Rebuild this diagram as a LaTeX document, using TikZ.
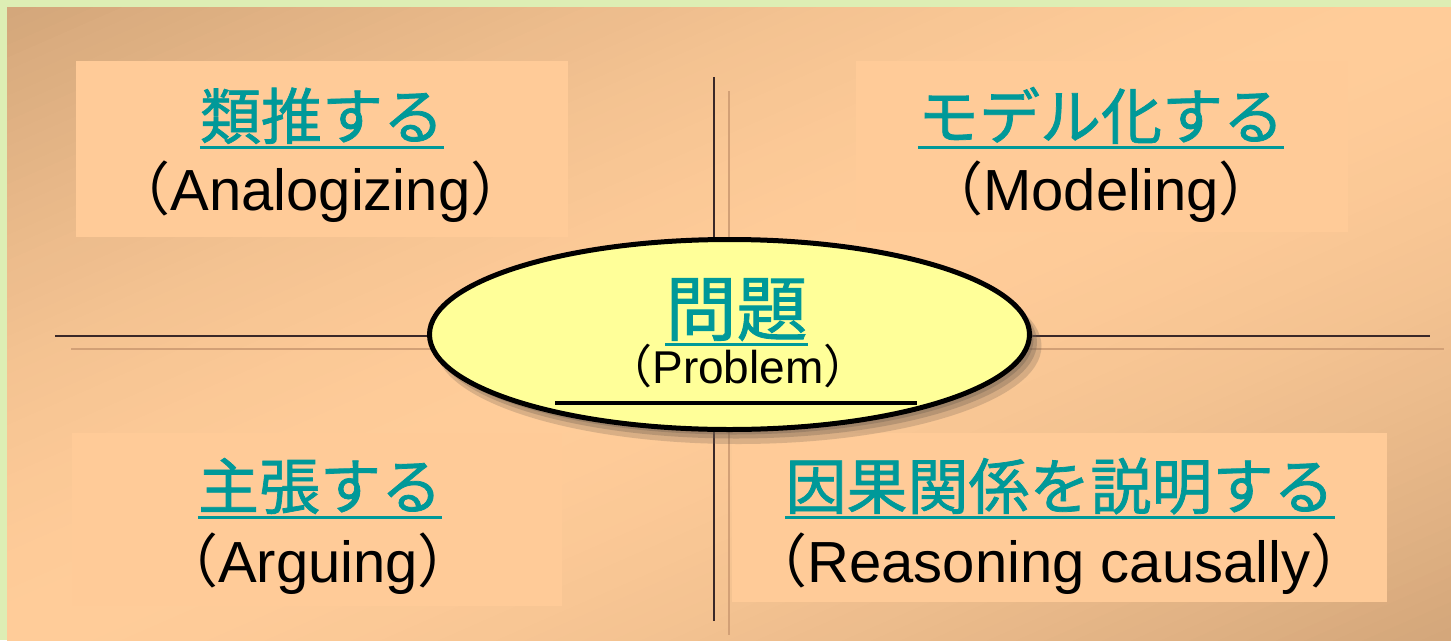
\documentclass[tikz,border=0pt]{standalone}
\usepackage{fontspec}
\setmainfont{Liberation Sans}
\newfontfamily\jp{Noto Sans CJK JP}[FakeBold=1.2]
\newfontfamily\jpp{Noto Sans CJK JP}
\usetikzlibrary{shapes.geometric,calc}
\definecolor{greenc}{HTML}{DDEEB4}
\definecolor{darkc}{HTML}{D3A67A}
\definecolor{peachc}{HTML}{FFCC99}
\definecolor{panelc}{HTML}{FFCB98}
\definecolor{tealc}{HTML}{009999}
\definecolor{axisc}{HTML}{3A2828}
\definecolor{axshc}{HTML}{D2A076}
\definecolor{yellc}{HTML}{FFFF99}
\definecolor{shdc}{HTML}{6E5E50}
\newcommand\enparen[1]{{\jpp （}#1{\jpp ）}}
\begin{document}
\begin{tikzpicture}[x=1pt,y=-1pt,
  panel/.style={fill=panelc,draw=none},
  axl/.style={draw=axisc,line width=2pt},
  axsh/.style={draw=axshc,line width=2pt},
  jpt/.style={text=tealc,font=\jp\fontsize{61}{61}\selectfont,inner sep=0pt,anchor=base},
  jpbig/.style={text=tealc,font=\jp\fontsize{71}{71}\selectfont,inner sep=0pt,anchor=base},
  ent/.style={text=black,font=\fontsize{58}{58}\selectfont,inner sep=0pt,anchor=base},
  ensm/.style={text=black,font=\fontsize{46}{46}\selectfont,inner sep=0pt,anchor=base},
  ulc/.style={draw=tealc,line width=3pt}]
\useasboundingbox (0,0) rectangle (1451,640);
\fill[greenc] (0,0) rectangle (1451,640);
\begin{scope}
\clip (7,7) rectangle (1451,640);
\foreach \i in {0,...,99} {
  \pgfmathsetmacro\ta{\i*0.02}
  \pgfmathsetmacro\tb{\ta+0.035}
  \pgfmathsetmacro\tm{\ta+0.01}
  \pgfmathtruncatemacro\dd{100*min(1,pow(max(abs(\tm-1),0.001),1.6))}
  \colorlet{stripc}{darkc!\dd!peachc}
  \fill[stripc] ({7+\ta*1444},7) -- ({7+\tb*1444},7) -- (7,{7+\tb*633}) -- (7,{7+\ta*633}) -- cycle;
}
\end{scope}
% axes
\coordinate (vs1) at (729,91);  \coordinate (vs2) at (729,635);
\coordinate (hs1) at (71,349);  \coordinate (hs2) at (1444,349);
\coordinate (v1) at (714,77);   \coordinate (v2) at (714,621);
\coordinate (h1) at (55,336);   \coordinate (h2) at (1430,336);
\draw[axsh] (vs1) -- (vs2);
\draw[axsh] (hs1) -- (hs2);
\draw[axl] (v1) -- (v2);
\draw[axl] (h1) -- (h2);
% panels
\path[panel] (76,61) rectangle (568,237);
\path[panel] (856,61) rectangle (1348,232);
\path[panel] (72,433) rectangle (562,606);
\path[panel] (732,433) rectangle (1387,602);
% ellipse shadow
\fill[shdc,opacity=0.25] (738.5,346) ellipse [x radius=303, y radius=98];
\fill[shdc,opacity=0.3] (736,342.5) ellipse [x radius=301, y radius=96];
\fill[shdc,opacity=0.35] (733.5,339.5) ellipse [x radius=300, y radius=95];
\node[ellipse,draw=black,line width=5pt,fill=yellc,minimum width=600pt,minimum height=190pt,inner sep=0pt] (prob) at (729.5,334.5) {};
\coordinate (bar1) at (555,403); \coordinate (bar2) at (917,403);
\draw[black,line width=3.5pt] (bar1) -- (bar2);
% texts
\node[jpt] (t1) at (322,139) {類推する};
\node[ent] (e1) at (320.5,210) {\enparen{Analogizing}};
\node[jpt] (t2) at (1101,139) {モデル化する};
\node[ent] (e2) at (1101,210) {\enparen{Modeling}};
\node[jpbig] (t3) at (736.5,335) {問題};
\node[ensm] (e3) at (738,383) {\enparen{Problem}};
\node[jpt] (t4) at (320,509) {主張する};
\node[ent] (e4) at (318,582) {\enparen{Arguing}};
\node[jpt] (t5) at (1060,509) {因果関係を説明する};
\node[ent] (e5) at (1059,582) {\enparen{Reasoning causally}};
\foreach \n in {t1,t2,t4,t5}
  \draw[ulc] ($(\n.base west)+(0,8.5)$) -- ($(\n.base east)+(0,8.5)$);
\draw[ulc] ($(t3.base west)+(0,9)$) -- ($(t3.base east)+(0,9)$);
\end{tikzpicture}
\end{document}
